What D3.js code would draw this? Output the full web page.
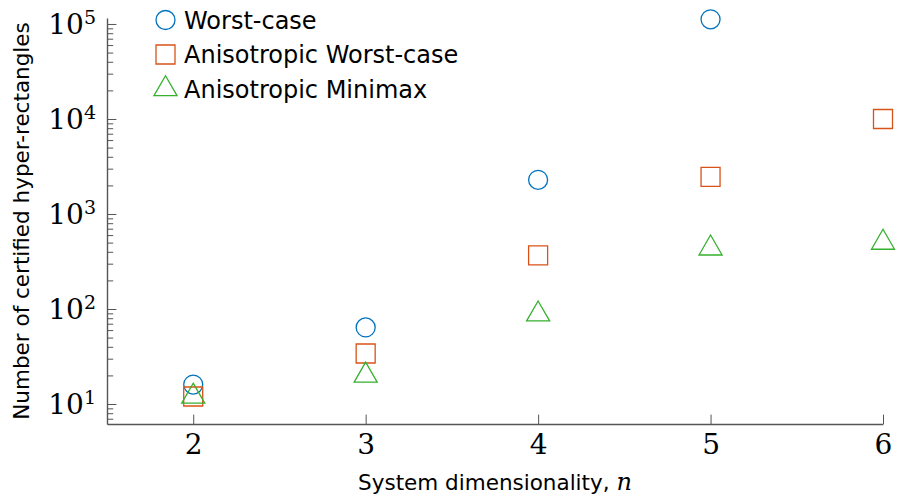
<!DOCTYPE html>
<html>
<head>
<meta charset="utf-8">
<script src="https://cdn.jsdelivr.net/npm/d3@7"></script>
<style>
  body { margin: 0; background: #fff; }
  #chart svg { display: block; }
</style>
</head>
<body>
<div id="chart"></div>
<script>
// data
var dims = [2, 3, 4, 5, 6];
var worstCase = [16, 64, 2290, 112000, null];
var anisoWorstCase = [12, 34, 367, 2460, 10000];
var anisoMinimax = [12, 20, 88, 435, 500];

var xTicks = [2, 3, 4, 5, 6];
var yMajorTicks = [1e1, 1e2, 1e3, 1e4, 1e5];
var xDomain = [1.5, 6];
var yDomain = [6.16, 115600];

var seriesNames = ["Worst-case", "Anisotropic Worst-case", "Anisotropic Minimax"];

var width = 897, height = 496;
var plotLeft = 107, plotRight = 883, plotTop = 18, plotBottom = 424;
var axisColor = "#555";
var colors = ["#0072bd", "#d95319", "#36b02e"];
var serif = "'DejaVu Serif', 'Liberation Serif', serif";
var sans = "'DejaVu Sans', 'Liberation Sans', sans-serif";

var svg = d3.select("#chart").append("svg")
  .attr("width", width)
  .attr("height", height);

var x = d3.scaleLinear().domain(xDomain).range([plotLeft, plotRight]);
var y = d3.scaleLog().domain(yDomain).range([plotBottom, plotTop]);

// minor ticks 2..9 x 10^k inside the domain
var yMinorTicks = [];
for (var k = 0; k <= 5; k++) {
  for (var m = 2; m <= 9; m++) {
    var v = m * Math.pow(10, k);
    if (v >= yDomain[0] && v <= yDomain[1]) yMinorTicks.push(v);
  }
}

// x axis
var xAxis = svg.append("g")
  .attr("transform", "translate(0," + plotBottom + ")")
  .call(d3.axisBottom(x).tickValues(xTicks).tickSize(-9.4).tickSizeOuter(0).tickPadding(10)
    .tickFormat(d3.format("d")));
xAxis.select(".domain").attr("stroke", axisColor).attr("stroke-width", 1.4);
xAxis.selectAll(".tick line").attr("stroke", axisColor).attr("stroke-width", 1);
xAxis.selectAll(".tick text")
  .attr("font-family", serif).attr("font-size", 28).attr("fill", "#000");

// y axis minor ticks
var yMinor = svg.append("g")
  .attr("transform", "translate(" + plotLeft + ",0)")
  .call(d3.axisLeft(y).tickValues(yMinorTicks).tickSize(-6.2).tickSizeOuter(0).tickFormat(""));
yMinor.select(".domain").remove();
yMinor.selectAll(".tick line").attr("stroke", axisColor).attr("stroke-width", 1);

// y axis major ticks
var yAxis = svg.append("g")
  .attr("transform", "translate(" + plotLeft + ",0)")
  .call(d3.axisLeft(y).tickValues(yMajorTicks).tickSize(-9.4).tickSizeOuter(0).tickPadding(11)
    .tickFormat(""));
yAxis.select(".domain").attr("stroke", axisColor).attr("stroke-width", 1.4);
yAxis.selectAll(".tick line").attr("stroke", axisColor).attr("stroke-width", 1);
yAxis.selectAll(".tick text").each(function(d) {
  var t = d3.select(this)
    .attr("font-family", serif).attr("font-size", 28).attr("fill", "#000")
    .attr("dy", "0.34em");
  t.append("tspan").text("10");
  t.append("tspan").attr("font-size", 19).attr("dy", "-0.52em")
    .text(Math.round(Math.log10(d)));
});

// axis labels
svg.append("text")
  .attr("transform", "translate(29," + ((plotTop + plotBottom) / 2) + ") rotate(-90)")
  .attr("text-anchor", "middle")
  .attr("font-family", sans).attr("font-size", 21.5)
  .text("Number of certified hyper-rectangles");

var xLabel = svg.append("text")
  .attr("x", (plotLeft + plotRight) / 2).attr("y", 490)
  .attr("text-anchor", "middle")
  .attr("font-family", sans).attr("font-size", 21.5);
xLabel.append("tspan").text("System dimensionality, ");
xLabel.append("tspan").attr("font-family", serif).attr("font-style", "italic").attr("font-size", 24).text("n");

// marker shapes
var circleSym = d3.symbol().type(d3.symbolCircle).size(Math.PI * 9.5 * 9.5);
var squareSym = d3.symbol().type(d3.symbolSquare).size(19 * 19);
function trianglePath(r) {
  var p = [];
  for (var i = 0; i < 3; i++) {
    var a = -Math.PI / 2 + i * 2 * Math.PI / 3;
    p.push([r * Math.cos(a), r * Math.sin(a)]);
  }
  return "M" + p.join("L") + "Z";
}
var shapes = [circleSym(), squareSym(), trianglePath(13.3)];

var allSeries = [worstCase, anisoWorstCase, anisoMinimax];

allSeries.forEach(function(vals, si) {
  var pts = dims.map(function(n, i) { return {n: n, v: vals[i]}; })
    .filter(function(d) { return d.v != null; });
  svg.append("g").selectAll("path")
    .data(pts)
    .enter().append("path")
    .attr("transform", function(d) { return "translate(" + x(d.n) + "," + y(d.v) + ")"; })
    .attr("d", shapes[si])
    .attr("fill", "none")
    .attr("stroke", colors[si])
    .attr("stroke-width", 1.3);
});

// legend
var legendRows = [20, 54.5, 89];
var legend = svg.append("g");
seriesNames.forEach(function(name, i) {
  legend.append("path")
    .attr("transform", "translate(165.5," + legendRows[i] + ")")
    .attr("d", shapes[i])
    .attr("fill", "none")
    .attr("stroke", colors[i])
    .attr("stroke-width", 1.3);
  legend.append("text")
    .attr("x", 184).attr("y", legendRows[i] + 8.5)
    .attr("font-family", sans).attr("font-size", 24)
    .text(name);
});
</script>
</body>
</html>
